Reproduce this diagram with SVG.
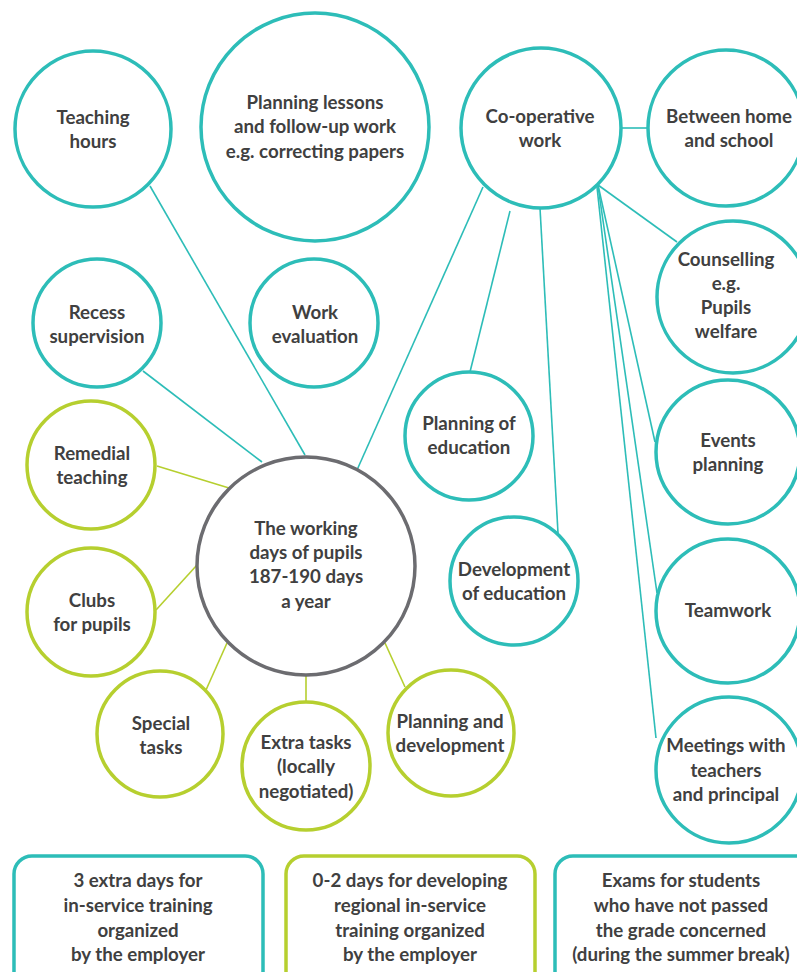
<svg xmlns="http://www.w3.org/2000/svg" width="797" height="972" viewBox="0 0 797 972">
  <style>
    .teal { fill: #ffffff; stroke: #2dbdb8; stroke-width: 3.5; }
    .lime { fill: #ffffff; stroke: #b6cf2f; stroke-width: 3.5; }
    .core { fill: #ffffff; stroke: #6c6c70; stroke-width: 3.5; }
    .lt { stroke: #2dbdb8; stroke-width: 1.6; fill: none; }
    .ll { stroke: #b6cf2f; stroke-width: 1.6; fill: none; }
    text { font-family: "Lato", "Open Sans", sans-serif; font-weight: bold; font-size: 18.7px; fill: #404040; text-anchor: middle; }
  </style>
  <rect width="797" height="972" fill="#ffffff"/>

  <!-- connectors -->
  <g id="connectors">
    <line class="lt" x1="150" y1="186" x2="305" y2="455"/>
    <line class="lt" x1="143" y1="371" x2="262" y2="462"/>
    <line class="lt" x1="483" y1="187" x2="357" y2="470"/>
    <line class="ll" x1="157" y1="466" x2="229" y2="488"/>
    <line class="ll" x1="156" y1="610" x2="197" y2="565"/>
    <line class="ll" x1="206" y1="690" x2="227" y2="643"/>
    <line class="ll" x1="306" y1="702" x2="306" y2="675"/>
    <line class="ll" x1="405" y1="687" x2="385" y2="643"/>
    <line class="lt" x1="622" y1="128" x2="648" y2="128"/>
    <line class="lt" x1="598" y1="185" x2="677" y2="242"/>
    <line class="lt" x1="510" y1="211" x2="470" y2="372"/>
    <line class="lt" x1="540" y1="208" x2="558" y2="533"/>
    <line class="lt" x1="598" y1="185" x2="655" y2="442"/>
    <line class="lt" x1="598" y1="186" x2="657" y2="593"/>
    <line class="lt" x1="597" y1="187" x2="656" y2="738"/>
  </g>

  <g id="teaching-hours">
    <circle class="teal" cx="93" cy="129" r="78"/>
    <text x="93" y="124">Teaching</text>
    <text x="93" y="148">hours</text>
  </g>
  <g id="planning-lessons">
    <circle class="teal" cx="315" cy="127" r="114"/>
    <text x="315" y="109">Planning lessons</text>
    <text x="315" y="133">and follow-up work</text>
    <text x="315" y="158">e.g. correcting papers</text>
  </g>
  <g id="co-operative-work">
    <circle class="teal" cx="541" cy="128" r="80"/>
    <text x="540" y="123">Co-operative</text>
    <text x="540" y="147">work</text>
  </g>
  <g id="between-home-school">
    <circle class="teal" cx="726" cy="128" r="78"/>
    <text x="729" y="123">Between home</text>
    <text x="729" y="147">and school</text>
  </g>
  <g id="counselling">
    <circle class="teal" cx="733" cy="297" r="76"/>
    <text x="726" y="266">Counselling</text>
    <text x="726" y="290">e.g.</text>
    <text x="726" y="314">Pupils</text>
    <text x="726" y="338">welfare</text>
  </g>
  <g id="recess-supervision">
    <circle class="teal" cx="97" cy="323" r="64"/>
    <text x="97" y="319">Recess</text>
    <text x="97" y="343">supervision</text>
  </g>
  <g id="work-evaluation">
    <circle class="teal" cx="314" cy="323" r="64"/>
    <text x="315" y="319">Work</text>
    <text x="315" y="343">evaluation</text>
  </g>
  <g id="remedial-teaching">
    <circle class="lime" cx="91" cy="465" r="64"/>
    <text x="92" y="460">Remedial</text>
    <text x="92" y="484">teaching</text>
  </g>
  <g id="planning-of-education">
    <circle class="teal" cx="469" cy="436" r="64"/>
    <text x="469" y="430">Planning of</text>
    <text x="469" y="454">education</text>
  </g>
  <g id="events-planning">
    <circle class="teal" cx="728" cy="452" r="72"/>
    <text x="728" y="447">Events</text>
    <text x="728" y="471">planning</text>
  </g>
  <g id="working-days">
    <circle class="core" cx="306" cy="566" r="109"/>
    <text x="306" y="535">The working</text>
    <text x="306" y="559">days of pupils</text>
    <text x="306" y="583">187-190 days</text>
    <text x="306" y="608">a year</text>
  </g>
  <g id="development-of-education">
    <circle class="teal" cx="514" cy="581" r="64"/>
    <text x="514" y="576">Development</text>
    <text x="514" y="600">of education</text>
  </g>
  <g id="clubs-for-pupils">
    <circle class="lime" cx="91" cy="612" r="64"/>
    <text x="92" y="607">Clubs</text>
    <text x="92" y="631">for pupils</text>
  </g>
  <g id="teamwork">
    <circle class="teal" cx="728" cy="611" r="72"/>
    <text x="728" y="617">Teamwork</text>
  </g>
  <g id="special-tasks">
    <circle class="lime" cx="160" cy="734" r="63"/>
    <text x="161" y="730">Special</text>
    <text x="161" y="754">tasks</text>
  </g>
  <g id="extra-tasks">
    <circle class="lime" cx="306" cy="766" r="64"/>
    <text x="306" y="749">Extra tasks</text>
    <text x="306" y="773">(locally</text>
    <text x="306" y="798">negotiated)</text>
  </g>
  <g id="planning-and-development">
    <circle class="lime" cx="451" cy="733" r="63"/>
    <text x="450" y="728">Planning and</text>
    <text x="450" y="752">development</text>
  </g>
  <g id="meetings">
    <circle class="teal" cx="729" cy="770" r="73"/>
    <text x="726" y="752">Meetings with</text>
    <text x="726" y="777">teachers</text>
    <text x="726" y="801">and principal</text>
  </g>

  <g id="box-in-service">
    <rect class="teal" x="14" y="856" width="249" height="140" rx="18"/>
    <text x="138" y="887">3 extra days for</text>
    <text x="138" y="912">in-service training</text>
    <text x="138" y="937">organized</text>
    <text x="138" y="961">by the employer</text>
  </g>
  <g id="box-regional">
    <rect class="lime" x="286" y="856" width="249" height="140" rx="18"/>
    <text x="410" y="887">0-2 days for developing</text>
    <text x="410" y="912">regional in-service</text>
    <text x="410" y="937">training organized</text>
    <text x="410" y="961">by the employer</text>
  </g>
  <g id="box-exams">
    <rect class="teal" x="555" y="856" width="260" height="140" rx="18"/>
    <text x="681" y="887">Exams for students</text>
    <text x="681" y="912">who have not passed</text>
    <text x="681" y="937">the grade concerned</text>
    <text x="681" y="961">(during the summer break)</text>
  </g>
</svg>
